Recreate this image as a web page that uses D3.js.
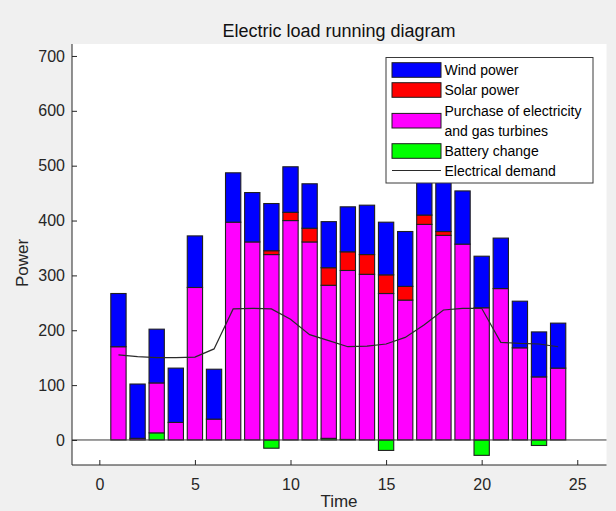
<!DOCTYPE html>
<html>
<head>
<meta charset="utf-8">
<script src="https://cdn.jsdelivr.net/npm/d3@7"></script>
<style>
  html, body { margin: 0; padding: 0; background: #f0f0f0; }
  svg { display: block; font-family: "Liberation Sans", Arial, Helvetica, sans-serif; }
</style>
</head>
<body>
<svg id="chart" width="616" height="511"></svg>
<script>
// ---- data ----
const hours = [1,2,3,4,5,6,7,8,9,10,11,12,13,14,15,16,17,18,19,20,21,22,23,24];
const battery  = [0,0,13,0,0,0,0,0,-15,0,0,3,1,0,-19,0,0,0,0,-28,0,0,-10,0];
const purchase = [170,3,91,32,278,38,397,361,338,400,361,279,308,302,267,255,393,373,357,241,276,168,115,131];
const solar    = [0,0,0,0,0,0,0,0,7,15,25,32,34,36,34,25,17,7,0,0,0,0,0,0];
const wind     = [97,99,98,99,94,91,90,90,86,83,81,84,82,90,96,100,100,100,97,94,92,85,82,82];
const demand   = [155,152,150,150,151,166,239,240,239,220,192,181,170,171,175,187,210,237,240,240,178,176,175,170];
const xTicks = [0,5,10,15,20,25];
const yTicks = [0,100,200,300,400,500,600,700];
const seriesNames = ["Wind power","Solar power","Purchase of electricity\nand gas turbines","Battery change","Electrical demand"];

(function () {
const colors = { battery: "#00ff00", purchase: "#ff00ff", solar: "#ff0000", wind: "#0000ff" };
const keys = ["battery","purchase","solar","wind"];

const svg = d3.select("#chart");
const axisColor = "#262626";

const pL = 72, pR = 606.5, pT = 44, pB = 465;
const x = d3.scaleLinear().domain([-1.43, 26.53]).range([pL, pR]);
const y = d3.scaleLinear().domain([-45.6, 721.8]).range([pB, pT]);

// axes background
svg.append("rect").attr("x", pL).attr("y", pT).attr("width", pR-pL).attr("height", pB-pT).attr("fill", "#ffffff");

// stacked data
const table = hours.map((h,i) => ({hour: h, battery: battery[i], purchase: purchase[i], solar: solar[i], wind: wind[i]}));
const stack = d3.stack().keys(keys).offset(d3.stackOffsetDiverging);
const layers = stack(table);

const barW = 0.8;
const g = svg.append("g");
layers.forEach(layer => {
  g.selectAll(null).data(layer).enter().append("rect")
    .attr("x", d => x(d.data.hour - barW/2))
    .attr("width", d => x(d.data.hour + barW/2) - x(d.data.hour - barW/2))
    .attr("y", d => y(Math.max(d[0], d[1])))
    .attr("height", d => Math.abs(y(d[0]) - y(d[1])))
    .attr("fill", colors[layer.key])
    .attr("stroke", "#1f1f1f")
    .attr("stroke-width", 1.1);
});

// baseline
svg.append("line").attr("x1", pL).attr("x2", pR).attr("y1", y(0)).attr("y2", y(0))
  .attr("stroke", "#3a3a3a").attr("stroke-width", 1);

// demand line
const line = d3.line().x((d,i) => x(hours[i])).y(d => y(d));
svg.append("path").datum(demand).attr("d", line).attr("fill", "none")
  .attr("stroke", "#2a2a2a").attr("stroke-width", 1.2);

// axes
const xAxis = svg.append("g").attr("transform", `translate(0,${pB})`)
  .call(d3.axisBottom(x).tickValues(xTicks).tickSize(-5).tickSizeOuter(0).tickPadding(14).tickFormat(d3.format("d")));
const yAxis = svg.append("g").attr("transform", `translate(${pL},0)`)
  .call(d3.axisLeft(y).tickValues(yTicks).tickSize(-5).tickSizeOuter(0).tickPadding(7).tickFormat(d3.format("d")));
[xAxis, yAxis].forEach(a => {
  a.select(".domain").attr("stroke", axisColor).attr("stroke-width", 1);
  a.selectAll(".tick line").attr("stroke", axisColor);
  a.selectAll(".tick text").attr("fill", axisColor).style("font-size", "16px").style("font-family", "'Liberation Sans', Arial, sans-serif");
});
yAxis.select(".domain").attr("d", `M0,${pT}V${pB}`);
xAxis.select(".domain").attr("d", `M${pL},0H${pR}`);

// title & labels
svg.append("text").attr("x", 339).attr("y", 36.5).attr("text-anchor", "middle")
  .style("font-size", "18px").attr("fill", "#111").text("Electric load running diagram");
svg.append("text").attr("x", 339).attr("y", 507).attr("text-anchor", "middle")
  .style("font-size", "17px").attr("fill", axisColor).text("Time");
svg.append("text").attr("transform", "translate(28,263) rotate(-90)").attr("text-anchor", "middle")
  .style("font-size", "17px").attr("fill", axisColor).text("Power");

// legend
const lg = svg.append("g");
lg.append("rect").attr("x", 386).attr("y", 57.5).attr("width", 207).attr("height", 125.5)
  .attr("fill", "#fff").attr("stroke", "#3a3a3a").attr("stroke-width", 1);
const legendRows = [
  {name: seriesNames[0], color: colors.wind, cy: 70},
  {name: seriesNames[1], color: colors.solar, cy: 90},
  {name: seriesNames[2], color: colors.purchase, cy: 120.7},
  {name: seriesNames[3], color: colors.battery, cy: 151},
  {name: seriesNames[4], color: null, cy: 170.5}
];
legendRows.forEach(r => {
  if (r.color) {
    lg.append("rect").attr("x", 392).attr("y", r.cy - 7.3).attr("width", 49).attr("height", 14.6)
      .attr("fill", r.color).attr("stroke", "#1f1f1f").attr("stroke-width", 1);
  } else {
    lg.append("line").attr("x1", 392).attr("x2", 441).attr("y1", r.cy).attr("y2", r.cy)
      .attr("stroke", "#2a2a2a").attr("stroke-width", 1.2);
  }
  const lines = r.name.split("\n");
  const startY = r.cy - (lines.length - 1) * 10;
  lines.forEach((t, k) => {
    lg.append("text").attr("x", 444.5).attr("y", startY + k * 20 + 5.2)
      .style("font-size", "14px").attr("fill", "#000").text(t);
  });
});
})();
</script>
</body>
</html>
